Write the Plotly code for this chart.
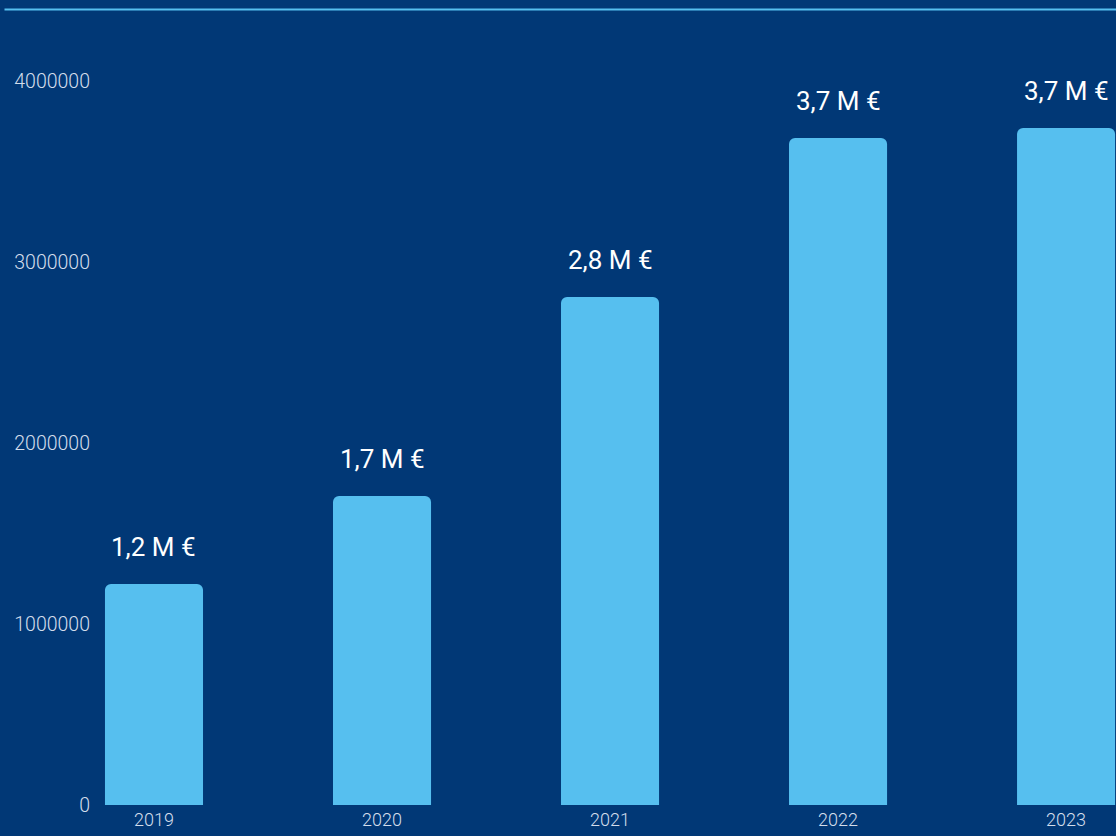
import plotly.graph_objects as go

# Annual revenue (EUR)
years = ["2019", "2020", "2021", "2022", "2023"]
revenue = [1221000, 1707000, 2807000, 3685000, 3740000]
y_ticks = [0, 1000000, 2000000, 3000000, 4000000]

BG = "#013876"
BAR = "#56bfef"
TICK = "#d3ddeb"


def fmt_meur(v):
    return f"{v / 1e6:.1f}".replace(".", ",") + " M €"


fig = go.Figure(
    go.Bar(
        x=years,
        y=revenue,
        width=0.43,
        marker=dict(color=BAR, line=dict(width=0)),
        hoverinfo="skip",
    )
)

# value labels above each bar (category index used as x position)
for i, v in enumerate(revenue):
    fig.add_annotation(
        x=i, y=v, text=fmt_meur(v), showarrow=False,
        xref="x", yref="y", yanchor="middle", yshift=37,
        font=dict(family="Roboto", size=26, color="#ffffff"),
    )

# thin accent rule across the top
fig.add_shape(
    type="line", xref="paper", yref="paper",
    x0=-0.094, x1=1.0, y0=1.0265, y1=1.0265,
    line=dict(color=BAR, width=2),
)

fig.update_layout(
    width=1116, height=836,
    margin=dict(l=100, r=0, t=30, b=31),
    paper_bgcolor=BG, plot_bgcolor=BG,
    barcornerradius=6,
    showlegend=False,
    font=dict(family="Roboto", color=TICK),
    xaxis=dict(
        type="category",
        range=[-0.2368, 4.219],
        showgrid=False, zeroline=False, showline=False,
        ticks="", ticklabelstandoff=2,
        tickfont=dict(size=18, color=TICK, family="Roboto Light, Roboto"),
        fixedrange=True,
    ),
    yaxis=dict(
        range=[0, 4282000],
        tickvals=y_ticks,
        ticktext=[str(t) for t in y_ticks],
        showgrid=False, zeroline=False, showline=False,
        ticks="", ticklabelstandoff=9,
        tickfont=dict(size=19.5, color=TICK, family="Roboto Light, Roboto"),
        fixedrange=True,
    ),
)

fig.write_html("out.html")
